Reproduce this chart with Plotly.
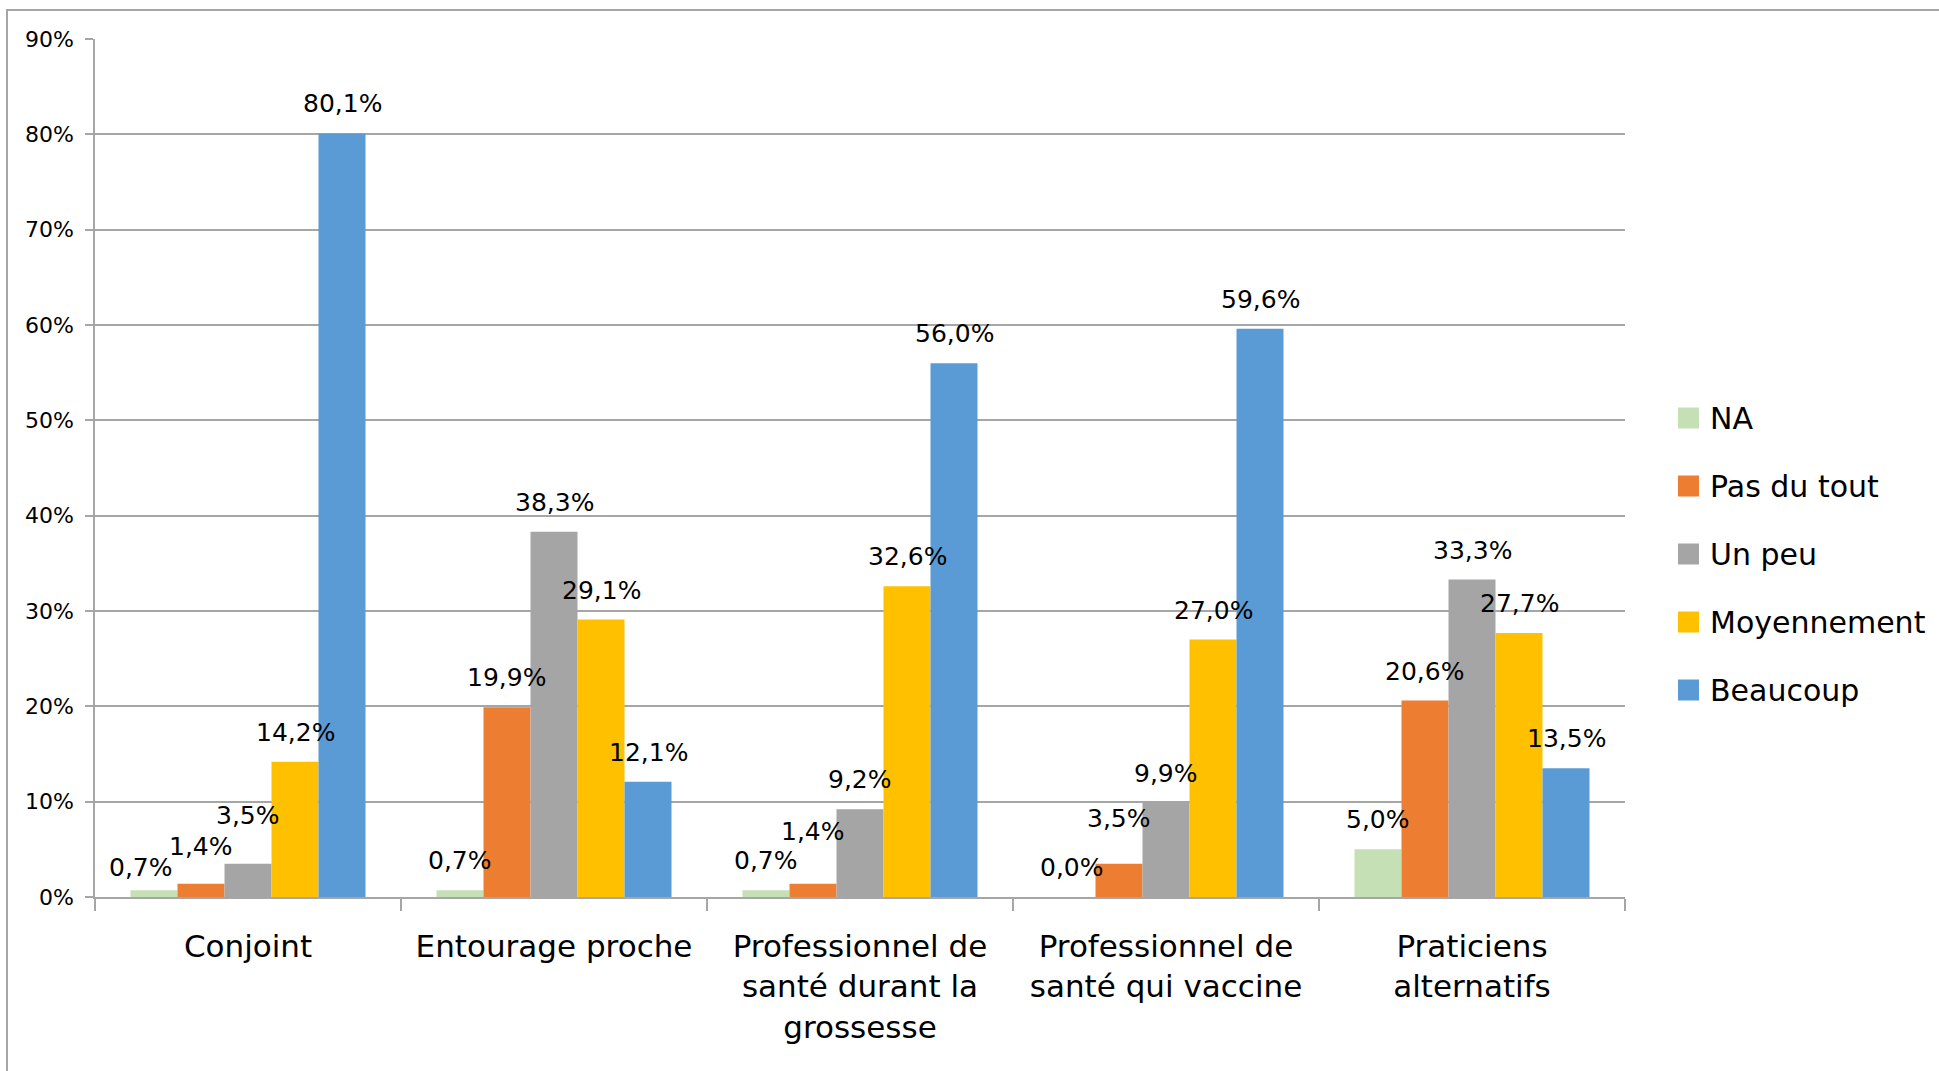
import plotly.graph_objects as go

# Categories (x axis) and series
categories = [
    "Conjoint",
    "Entourage proche",
    "Professionnel de<br>santé durant la<br>grossesse",
    "Professionnel de<br>santé qui vaccine",
    "Praticiens<br>alternatifs",
]
series_names = ["NA", "Pas du tout", "Un peu", "Moyennement", "Beaucoup"]
series_colors = ["#C5E0B4", "#ED7D31", "#A5A5A5", "#FFC000", "#5B9BD5"]

# Percentages per series, in category order
na_values = [0.7, 0.7, 0.7, 0.0, 5.0]
pas_du_tout = [1.4, 19.9, 1.4, 3.5, 20.6]
un_peu = [3.5, 38.3, 9.2, 9.9, 33.3]
moyennement = [14.2, 29.1, 32.6, 27.0, 27.7]
beaucoup = [80.1, 12.1, 56.0, 59.6, 13.5]
series_values = [na_values, pas_du_tout, un_peu, moyennement, beaucoup]

y_tick_values = [0, 0.1, 0.2, 0.3, 0.4, 0.5, 0.6, 0.7, 0.8, 0.9]

# Hand-placed value labels (series index, category index) -> (dx, dy) in px,
# moved so that neighbouring small labels do not collide
label_nudges = {
    (0, 0): (-13, -7),
    (1, 0): (0, 8),
    (2, 0): (0, 19),
    (1, 2): (0, 23),
    (1, 3): (0, 16),
}

FONT = "DejaVu Sans"
GRID = "#A6A6A6"

# Plot area geometry in pixels (page 1939 x 1071)
L, R, T, B = 95, 1625, 39, 897
W, H = R - L, B - T
BARGAP = 0.232
n_series = len(series_names)
bar_px = W / len(categories) * (1 - BARGAP) / n_series


def px_x(p):
    return (p - L) / W


def px_y(p):
    return (B - p) / H


def pct_label(v):
    return f"{v:.1f}%".replace(".", ",")


fig = go.Figure()
annotations = []
for i, (name, color, vals) in enumerate(zip(series_names, series_colors, series_values)):
    fracs = [v / 100 for v in vals]
    fig.add_trace(go.Bar(
        name=name,
        x=categories,
        y=fracs,
        marker=dict(color=color, line=dict(width=0)),
        showlegend=False,
    ))
    # value labels above each bar
    offset = (i - (n_series - 1) / 2) * bar_px
    for j, (cat, v) in enumerate(zip(categories, vals)):
        dx, dy = label_nudges.get((i, j), (0, 0))
        annotations.append(dict(
            x=cat, y=v / 100, xref="x", yref="y",
            xshift=offset + dx, yshift=13 + dy,
            xanchor="center", yanchor="bottom", showarrow=False,
            text=pct_label(v),
            font=dict(family=FONT, size=25, color="#000000"),
        ))

shapes = [
    # outer chart frame (top and left edges visible)
    dict(type="rect", xref="paper", yref="paper",
         x0=px_x(7), x1=px_x(2100), y0=px_y(1200), y1=px_y(10),
         line=dict(color="#A6A6A6", width=2), fillcolor="rgba(0,0,0,0)",
         layer="below"),
]

# Legend: coloured squares with labels
legend_x = px_x(1678)
legend_top = 418
legend_step = 68
for i, (name, color) in enumerate(zip(series_names, series_colors)):
    yc = px_y(legend_top + i * legend_step)
    shapes.append(dict(
        type="rect", xref="paper", yref="paper",
        xsizemode="pixel", ysizemode="pixel",
        xanchor=legend_x, yanchor=yc,
        x0=0, x1=21, y0=-10.5, y1=10.5,
        fillcolor=color, line=dict(width=0),
    ))
    annotations.append(dict(
        xref="paper", yref="paper", x=px_x(1708), y=yc,
        xanchor="left", yanchor="middle", showarrow=False,
        text=name, font=dict(family=FONT, size=30, color="#000000"),
    ))

fig.update_layout(
    width=1939,
    height=1071,
    margin=dict(l=L, r=1939 - R, t=T, b=1071 - B, autoexpand=False),
    paper_bgcolor="#FFFFFF",
    plot_bgcolor="#FFFFFF",
    barmode="group",
    bargap=BARGAP,
    bargroupgap=0,
    separators=", ",
    font=dict(family=FONT, color="#000000"),
    shapes=shapes,
    annotations=annotations,
    showlegend=False,
)

fig.update_xaxes(
    type="category",
    tickson="boundaries",
    ticks="outside",
    ticklen=12,
    tickwidth=1.5,
    tickcolor=GRID,
    showline=True,
    linecolor=GRID,
    linewidth=1.5,
    showgrid=False,
    tickfont=dict(family=FONT, size=31, color="#000000"),
    ticklabelstandoff=21,
)

fig.update_yaxes(
    range=[0, 0.9],
    tickvals=y_tick_values,
    tickformat=".0%",
    ticks="outside",
    ticklen=8,
    tickwidth=1.5,
    tickcolor=GRID,
    showline=True,
    linecolor=GRID,
    linewidth=1.5,
    showgrid=True,
    gridcolor=GRID,
    gridwidth=1.5,
    zeroline=False,
    tickfont=dict(family=FONT, size=22, color="#000000"),
    ticklabelstandoff=7,
)

fig.write_html("out.html")
